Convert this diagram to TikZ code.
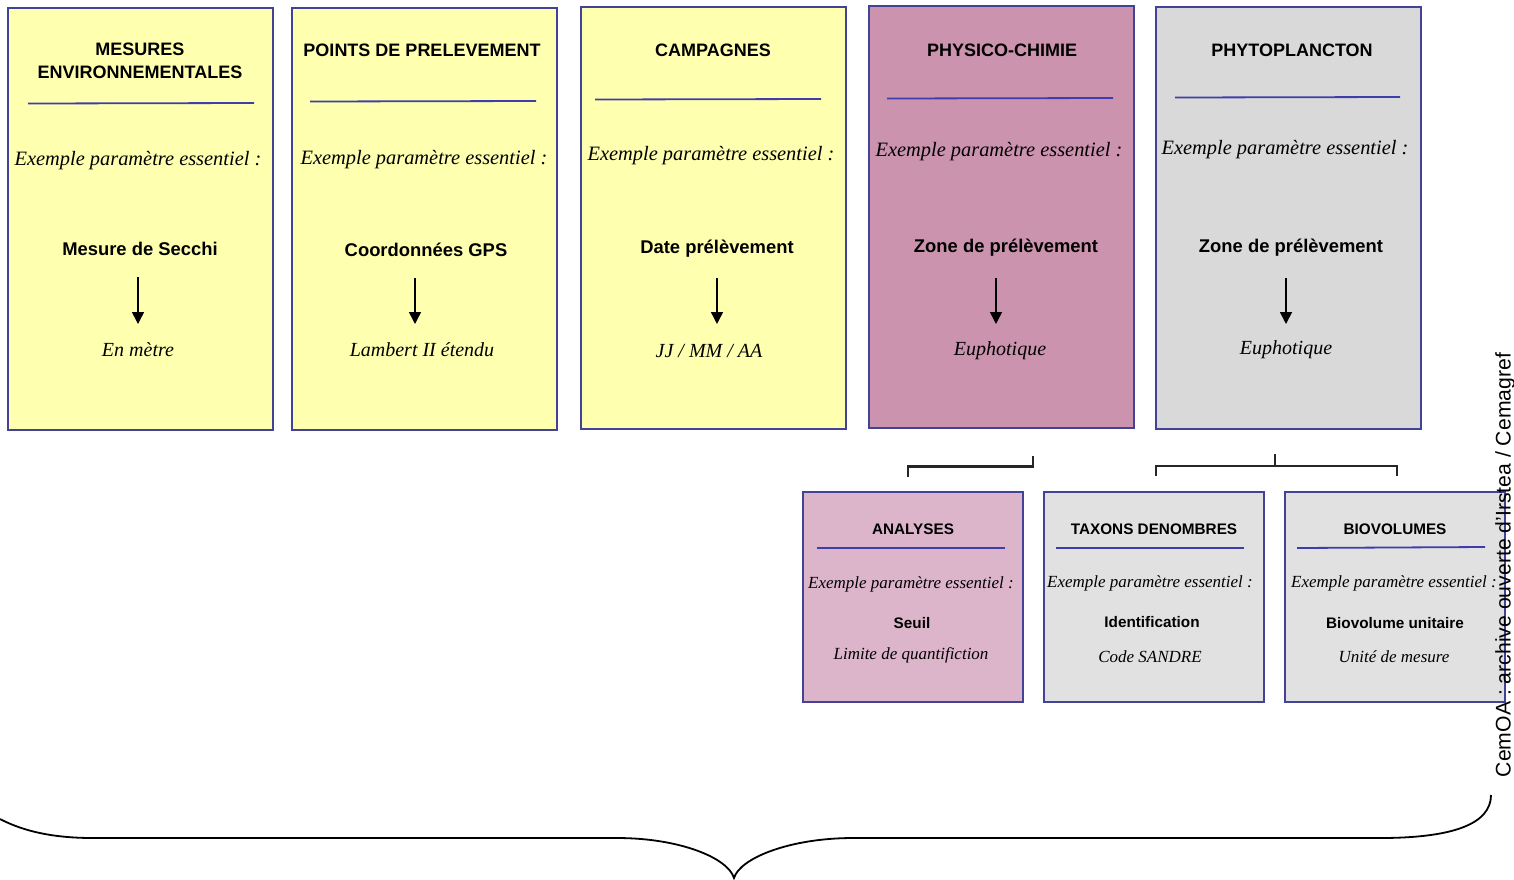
\documentclass[tikz,border=0pt]{standalone}
\usepackage{fontspec}
\setmainfont{Liberation Serif}
\setsansfont{Liberation Sans}
\usetikzlibrary{arrows.meta}
\definecolor{yel}{RGB}{255,255,176}
\definecolor{mauve}{RGB}{204,147,174}
\definecolor{lmauve}{RGB}{221,181,203}
\definecolor{gry}{RGB}{217,217,217}
\definecolor{lgry}{RGB}{225,225,225}
\definecolor{bord}{RGB}{66,66,150}
\definecolor{sepc}{RGB}{62,62,170}
\tikzset{
  bigbox/.style={draw=bord, line width=2pt, inner sep=0pt, minimum width=265pt, minimum height=422pt},
  smallbox/.style={draw=bord, line width=2pt, inner sep=0pt, minimum width=220pt, minimum height=210pt},
  ttl/.style={font=\sffamily\bfseries\fontsize{18}{23}\selectfont, align=center, inner sep=0pt},
  exl/.style={font=\itshape\fontsize{20.4}{24}\selectfont, inner sep=0pt},
  bld/.style={font=\sffamily\bfseries\fontsize{18.4}{22}\selectfont, inner sep=0pt},
  itl/.style={font=\itshape\fontsize{20}{24}\selectfont, inner sep=0pt},
  sttl/.style={font=\sffamily\bfseries\fontsize{15.3}{18}\selectfont, inner sep=0pt},
  sexl/.style={font=\itshape\fontsize{17}{20}\selectfont, inner sep=0pt},
  sbld/.style={font=\sffamily\bfseries\fontsize{15.3}{18}\selectfont, inner sep=0pt},
  sitl/.style={font=\itshape\fontsize{17}{20}\selectfont, inner sep=0pt},
  sepline/.style={draw=sepc, line width=1.8pt},
  arr/.style={line width=1.5pt, -{Triangle[length=12pt,width=12pt]}},
  conn/.style={draw=black!85, line width=2.2pt},
  brace/.style={draw=black, line width=1.8pt}
}
\begin{document}
\begin{tikzpicture}[x=1pt,y=-1pt]
\useasboundingbox (0,0) rectangle (1514,879);
% top boxes
\node[bigbox, fill=yel]   (B1) at (140,218.5) {};
\node[bigbox, fill=yel]   (B2) at (424.5,219) {};
\node[bigbox, fill=yel]   (B3) at (713.5,218) {};
\node[bigbox, fill=mauve] (B4) at (1001.5,217) {};
\node[bigbox, fill=gry]   (B5) at (1288.5,218) {};
% bottom boxes
\node[smallbox, fill=lmauve] (S1) at (913,597) {};
\node[smallbox, fill=lgry]   (S2) at (1154,597) {};
\node[smallbox, fill=lgry]   (S3) at (1395,597) {};
% box 1
\node[ttl] (t1) at (140,61) {MESURES\\ENVIRONNEMENTALES};
\draw[sepline] (28,103.5) -- (254,103);
\node[exl] (e1) at (138,161) {Exemple paramètre essentiel :};
\node[bld] (b1) at (140,249) {Mesure de Secchi};
\node[itl] (i1) at (138,350) {En mètre};
\draw[arr] ([yshift=-28pt]i1 |- b1) -- ([yshift=26pt]i1.center);
% box 2
\node[ttl] (t2) at (422,50) {POINTS DE PRELEVEMENT};
\draw[sepline] (310,101.5) -- (536,101);
\node[exl] (e2) at (424,160) {Exemple paramètre essentiel :};
\node[bld] (b2) at (426,250) {Coordonnées GPS};
\node[itl] (i2) at (422,350) {Lambert II étendu};
\draw[arr] ([xshift=-7pt,yshift=-28pt]i2 |- b2) -- ([xshift=-7pt,yshift=26pt]i2.center);
% box 3
\node[ttl] (t3) at (713,50) {CAMPAGNES};
\draw[sepline] (595,99.5) -- (821,99);
\node[exl] (e3) at (711,156) {Exemple paramètre essentiel :};
\node[bld] (b3) at (717,249) {Date prélèvement};
\node[itl] (i3) at (709,351) {JJ / MM / AA};
\draw[arr] ([xshift=8pt,yshift=-29pt]i3 |- b3) -- ([xshift=8pt,yshift=27pt]i3.center);
% box 4
\node[ttl] (t4) at (1002,50) {PHYSICO-CHIMIE};
\draw[sepline] (887,98.5) -- (1113,98);
\node[exl] (e4) at (999,152) {Exemple paramètre essentiel :};
\node[bld] (b4) at (1006,248) {Zone de prélèvement};
\node[itl] (i4) at (1000,351) {Euphotique};
\draw[arr] ([xshift=-4pt,yshift=-30pt]i4 |- b4) -- ([xshift=-4pt,yshift=27pt]i4.center);
% box 5
\node[ttl] (t5) at (1292,50) {PHYTOPLANCTON};
\draw[sepline] (1175,97.5) -- (1400,97);
\node[exl] (e5) at (1285,150) {Exemple paramètre essentiel :};
\node[bld] (b5) at (1291,248) {Zone de prélèvement};
\node[itl] (i5) at (1286,350) {Euphotique};
\draw[arr] ([yshift=-30pt]i5 |- b5) -- ([yshift=26pt]i5.center);
% small box 1
\node[sttl] (st1) at (913,529) {ANALYSES};
\draw[sepline] (817,548) -- (1005,548);
\node[sexl] (se1) at (911,584) {Exemple paramètre essentiel :};
\node[sbld] (sb1) at (912,623) {Seuil};
\node[sitl] (si1) at (911,655) {Limite de quantifiction};
% small box 2
\node[sttl] (st2) at (1154,529) {TAXONS DENOMBRES};
\draw[sepline] (1056,548) -- (1244,548);
\node[sexl] (se2) at (1150,583) {Exemple paramètre essentiel :};
\node[sbld] (sb2) at (1152,622) {Identification};
\node[sitl] (si2) at (1150,657) {Code SANDRE};
% small box 3
\node[sttl] (st3) at (1395,529) {BIOVOLUMES};
\draw[sepline] (1297,548) -- (1485,547);
\node[sexl] (se3) at (1394,583) {Exemple paramètre essentiel :};
\node[sbld] (sb3) at (1395,623) {Biovolume unitaire};
\node[sitl] (si3) at (1394,657) {Unité de mesure};
% brackets
\coordinate (k1a) at (1033,456);
\coordinate (k1b) at (908,477);
\draw[conn] (k1a) -- ++(0,10.5) -| (k1b);
\coordinate (k2m) at (1275,454);
\coordinate (k2l) at (1156,476);
\coordinate (k2r) at (1397,476);
\draw[conn] (k2m) -- ++(0,12);
\draw[conn] (k2l) -- ++(0,-10) -| (k2r);
% brace
\draw[brace] (0,819) .. controls (25,832) and (55,838) .. (93,838) -- (617,838)
  .. controls (680,838) and (728,858) .. (734,878)
  .. controls (740,858) and (790,838) .. (853,838) -- (1380,838)
  .. controls (1450,838) and (1491,825) .. (1491,795);
% credit
\node[rotate=90, font=\sffamily\fontsize{21.2}{24}\selectfont, inner sep=0pt] (cr) at (1505,565) {CemOA : archive ouverte d'Irstea / Cemagref};
\end{tikzpicture}
\end{document}
